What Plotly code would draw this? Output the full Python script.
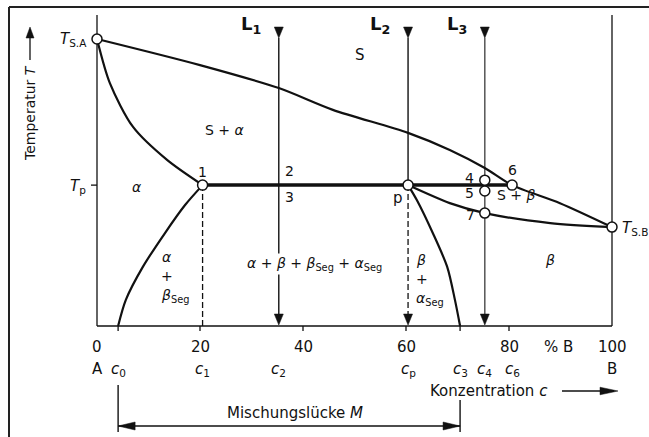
import plotly.graph_objects as go

# ---------------- data (c in % B, T in relative units: 0 = axis bottom, 100 = axis top) ----------------
liq_c = [0, 20, 35.3, 45.8, 60.4, 68.5, 75.3, 80.6, 89.9, 100]
liq_T = [92.3, 83.9, 76.5, 69.5, 62.1, 56.6, 50.8, 45.3, 39.5, 31.8]
solA_c = [0, 2.5, 7, 13.6, 20.5]
solA_T = [92.3, 78.1, 64.0, 53.4, 45.3]
solvA_c = [20.5, 17.1, 13.2, 8.9, 5.6, 4.1]
solvA_T = [45.3, 38.9, 29.9, 19.0, 8.4, 0]
solB_c = [60.4, 68.5, 75.3, 88, 100]
solB_T = [45.3, 39.5, 36.3, 33.1, 31.8]
solvB_c = [60.4, 62.1, 65.2, 68.0, 69.5, 70.5]
solvB_T = [45.3, 40.5, 29.9, 19.0, 8.4, 0]
Tp = 45.3
tie_c = [20.5, 80.6]

pt_names = ["TSA", "1", "p", "4", "5", "6", "7", "TSB"]
pt_c = [0, 20.5, 60.4, 75.3, 75.3, 80.6, 75.3, 100]
pt_T = [92.3, 45.3, 45.3, 46.9, 43.4, 45.3, 36.3, 31.8]

L_labels = ["L<sub>1</sub>", "L<sub>2</sub>", "L<sub>3</sub>"]
L_c = [35.3, 60.4, 75.3]

x_ticks = [0, 20, 40, 60, 80, 100]
x_tick_labels = ["0", "20", "40", "60", "80", "100"]
conc_pos = [0, 4.1, 20.5, 35.3, 60.4, 70.5, 75.3, 80.6, 100]
conc_labels = ["A", "<i>c</i><sub>0</sub>", "<i>c</i><sub>1</sub>", "<i>c</i><sub>2</sub>",
               "<i>c</i><sub>p</sub>", "<i>c</i><sub>3</sub>", "<i>c</i><sub>4</sub>",
               "<i>c</i><sub>6</sub>", "B"]
c0, c3 = 4.1, 70.5

# ---------------- geometry (pixel scale) ----------------
W, H = 649, 437
X0, XS = 97, 5.15     # px of c=0, px per % B
Y0, YS = 326, 3.11    # px of T=0, px per T unit
def dx(p): return p / XS
def dy(p): return p / YS
def px(x): return (x - X0) / XS
def py(y): return (Y0 - y) / YS

FONT = "DejaVu Sans, Liberation Sans, Arial, sans-serif"
BLACK = "#111111"

fig = go.Figure()

def line(xs, ys, width=2, color=BLACK, dash=None, shape="linear"):
    fig.add_trace(go.Scatter(x=xs, y=ys, mode="lines", hoverinfo="skip",
                             line=dict(color=color, width=width, dash=dash, shape=shape,
                                       smoothing=0.8)))

def arrowhead(tx, ty, direction, length=10, half=4.5, color=BLACK):
    if direction == "down":
        xs = [tx, tx - dx(half), tx + dx(half), tx]; ys = [ty, ty + dy(length), ty + dy(length), ty]
    elif direction == "up":
        xs = [tx, tx - dx(half), tx + dx(half), tx]; ys = [ty, ty - dy(length), ty - dy(length), ty]
    elif direction == "left":
        xs = [tx, tx + dx(length), tx + dx(length), tx]; ys = [ty, ty + dy(half), ty - dy(half), ty]
    else:
        xs = [tx, tx - dx(length), tx - dx(length), tx]; ys = [ty, ty + dy(half), ty - dy(half), ty]
    fig.add_trace(go.Scatter(x=xs, y=ys, mode="lines", fill="toself", fillcolor=color,
                             line=dict(color=color, width=0.5), hoverinfo="skip"))

# axes frame of diagram
top = 100
line([0, 0], [0, top], width=1.3)
line([100, 100], [0, top], width=1.3)
line([0, 100], [0, 0], width=1.3)
for t in x_ticks[1:-1] + [c0, c3]:
    line([t, t], [0, -dy(5)], width=1.3)
line([-dx(6), 0], [Tp, Tp], width=1.3)

# cooling lines L1..L3
top_tip = py(38)
bot_tip = 0 + dy(1)
line([L_c[0], L_c[0]], [top_tip, bot_tip + dy(5)], width=1.4)
line([L_c[1], L_c[1]], [top_tip, Tp], width=1.4)
line([L_c[1], L_c[1]], [Tp, bot_tip + dy(5)], width=1.3, dash="6px,3px")
line([L_c[2], L_c[2]], [top_tip, bot_tip + dy(5)], width=1.5, color="#555555")
line([tie_c[0], tie_c[0]], [Tp, 0], width=1.3, dash="6px,3px")
for c in L_c:
    arrowhead(c, top_tip, "down", length=11, half=4.5)
    arrowhead(c, bot_tip, "down", length=11, half=4.5)

# phase boundaries
line(liq_c, liq_T, width=2.2, shape="spline")
line(solA_c, solA_T, width=2.2, shape="spline")
line(solvA_c, solvA_T, width=2.2, shape="spline")
line(solB_c, solB_T, width=2.2, shape="spline")
line(solvB_c, solvB_T, width=2.2, shape="spline")
line(tie_c, [Tp, Tp], width=3.5)

# marked points
fig.add_trace(go.Scatter(x=pt_c, y=pt_T, mode="markers", hoverinfo="skip",
                         marker=dict(symbol="circle", size=10, color="white",
                                     line=dict(color=BLACK, width=1.5))))

# Mischungslücke bracket
yb = py(426)
line([c0, c0], [py(385), py(432)], width=1.4)
line([c3, c3], [py(400), py(432)], width=1.4)
line([c0, c3], [yb, yb], width=1.3)
arrowhead(c0, yb, "left", length=17, half=4)
arrowhead(c3, yb, "right", length=17, half=4)

# Konzentration arrow
yk = py(391)
line([px(562), px(614)], [yk, yk], width=1.3)
arrowhead(px(618), yk, "right", length=18, half=3.8)

# Temperatur arrow
xt = px(30)
line([xt, xt], [py(60), py(37)], width=1.3)
arrowhead(xt, py(27), "up", length=11, half=4)

# ---------------- text ----------------
ann = []
def text(x, y, s, size=15, xanchor="center", yanchor="middle", xshift=0, yshift=0,
         bg=None, angle=0, bold=False, color=BLACK):
    d = dict(x=x, y=y, xref="x", yref="y", text=("<b>%s</b>" % s if bold else s),
             showarrow=False, xanchor=xanchor, yanchor=yanchor, xshift=xshift, yshift=yshift,
             textangle=angle, font=dict(family=FONT, size=size, color=color))
    if bg:
        d["bgcolor"] = bg
    ann.append(d)

for lab, c in zip(L_labels, L_c):
    text(c, py(25), lab, size=18, xshift=-28, bold=True)

# point labels
text(pt_c[0], pt_T[0], "<i>T</i><sub>S.A</sub>", size=15, xanchor="right", xshift=-8, yshift=-1)
text(0, Tp, "<i>T</i><sub>p</sub>", size=15, xanchor="right", xshift=-9, yshift=-1)
text(pt_c[7], pt_T[7], "<i>T</i><sub>S.B</sub>", size=15, xanchor="left", xshift=8, yshift=-1)
text(pt_c[1], Tp, "1", size=14, yshift=13)
text(L_c[0], Tp, "2", size=14, xanchor="left", xshift=4, yshift=14)
text(L_c[0], Tp, "3", size=14, xanchor="left", xshift=4, yshift=-12)
text(pt_c[2], Tp, "p", size=15, xanchor="right", xshift=-3, yshift=-13)
text(pt_c[3], pt_T[3], "4", size=14, xanchor="right", xshift=-9, yshift=2)
text(pt_c[4], pt_T[4], "5", size=14, xanchor="right", xshift=-9, yshift=-2)
text(pt_c[5], pt_T[5], "6", size=14, yshift=15)
text(pt_c[6], pt_T[6], "7", size=14, xanchor="right", xshift=-8, yshift=-2)

# region labels
text(px(360), py(55), "S", size=15)
text(px(225), py(130), "S + <i>α</i>", size=14)
text(px(137), py(187), "<i>α</i>", size=14)
text(px(516), py(195), "S + <i>β</i>", size=14)
text(px(550), py(260), "<i>β</i>", size=14)
text(px(167), py(267), "<i>α</i>", size=14, yanchor="bottom")
text(px(167), py(276), "+", size=14)
text(px(159), py(285), "<i>β</i><sub>Seg</sub>", size=14, xanchor="left", yanchor="top")
text(px(314), py(264), "<i>α</i> + <i>β</i> + <i>β</i><sub>Seg</sub> + <i>α</i><sub>Seg</sub>",
     size=14, bg="white")
text(px(414), py(270), "<i>β</i>", size=14, xanchor="left", yanchor="bottom")
text(px(414), py(279), "+", size=14, xanchor="left")
text(px(414), py(288), "<i>α</i><sub>Seg</sub>", size=14, xanchor="left", yanchor="top")

# axis labels
for t, lab in zip(x_ticks, x_tick_labels):
    text(t, py(347), lab, size=15)
text(px(558), py(347), "% B", size=15)
for c, lab in zip(conc_pos, conc_labels):
    text(c, py(369), lab, size=15)
text(px(489), py(391), "Konzentration <i>c</i>", size=15)
text(px(295), py(413), "Mischungslücke <i>M</i>", size=15)
text(px(30), py(113), "Temperatur <i>T</i>", size=14, angle=-90)

fig.update_layout(
    width=W, height=H, margin=dict(l=0, r=0, t=0, b=0),
    paper_bgcolor="white", plot_bgcolor="white", showlegend=False,
    xaxis=dict(range=[px(0), px(W)], visible=False, fixedrange=True),
    yaxis=dict(range=[py(H), py(0)], visible=False, fixedrange=True),
    annotations=ann,
    shapes=[
        dict(type="line", xref="paper", yref="paper", x0=9 / W, x1=1, y0=1 - 7 / H, y1=1 - 7 / H,
             line=dict(color="#222222", width=2)),
        dict(type="line", xref="paper", yref="paper", x0=9 / W, x1=9 / W, y0=1 - 7 / H, y1=0,
             line=dict(color="#222222", width=2)),
    ],
)

fig.write_html("out.html", config={"displayModeBar": False},
               post_script="document.body.style.margin='0px';document.body.style.overflow='hidden';")
